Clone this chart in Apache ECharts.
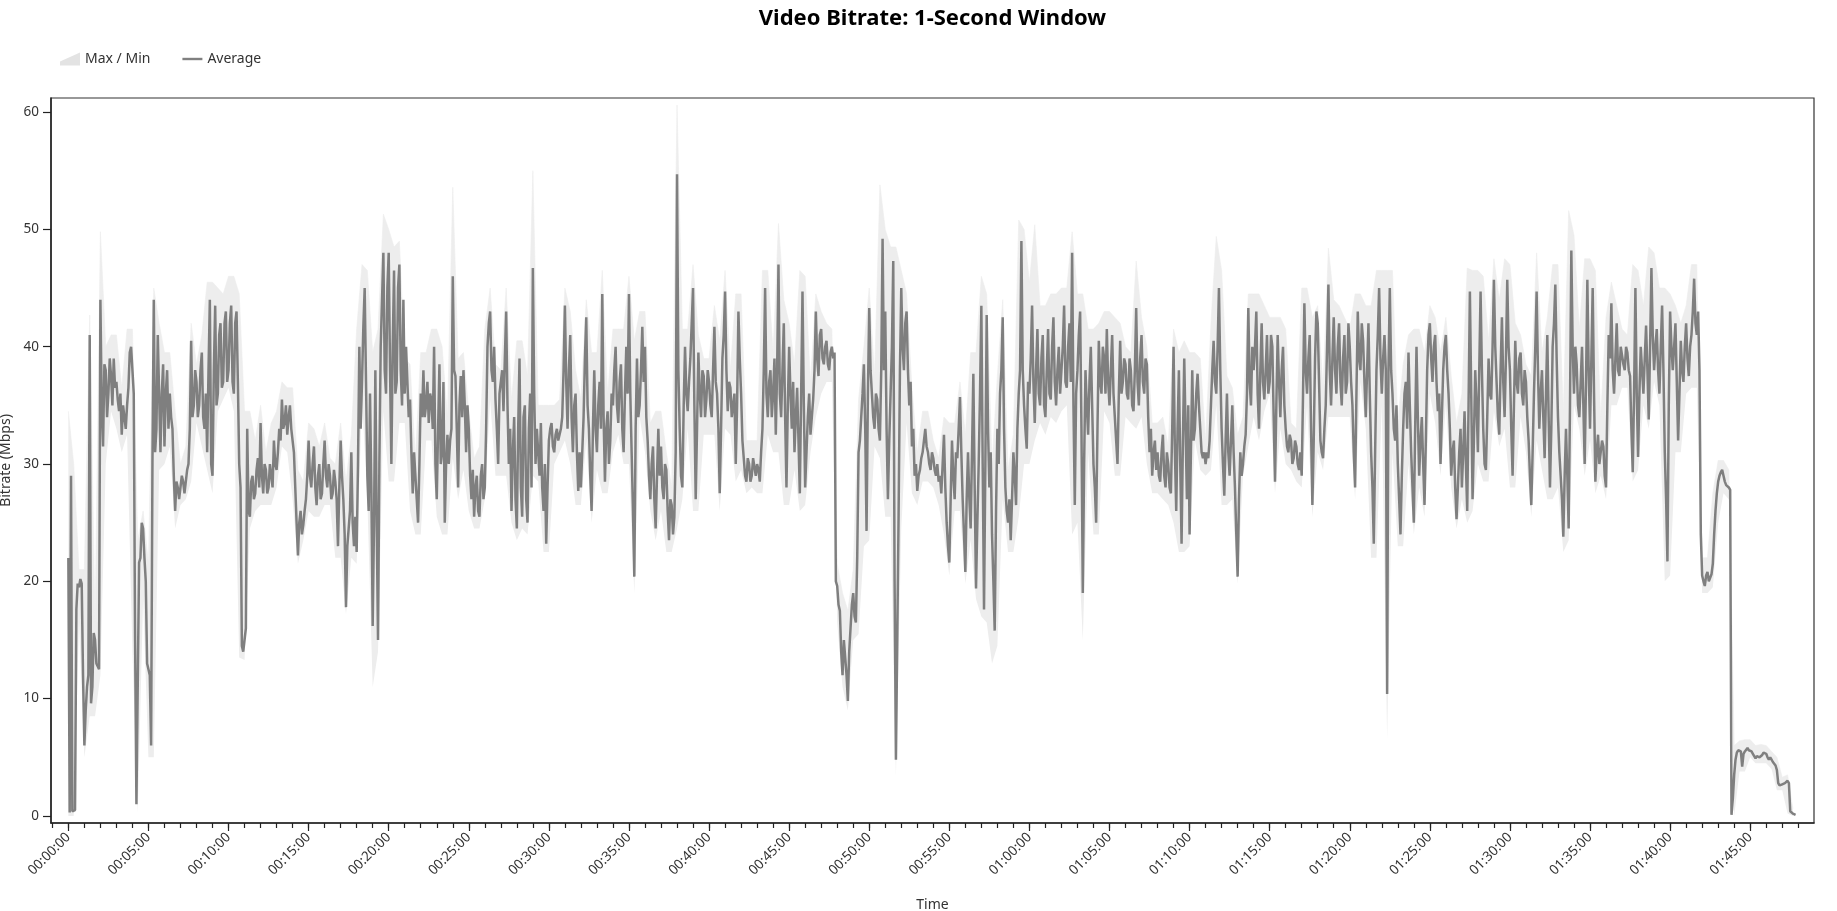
<!DOCTYPE html>
<html><head><meta charset="utf-8">
<script src="https://cdn.jsdelivr.net/npm/echarts@6/dist/echarts.min.js"></script>
<style>html,body{margin:0;padding:0;background:#fff}#c{width:1837px;height:911px}</style>
</head><body><div id="c"></div>
<script>
// ---- data (Mbps); average sampled every 5 s (one row per minute), max/min envelope every 20 s ----
const AVG_STEP_S = 5;
const BAND_STEP_S = 20;
const avgMbps = [
22,0.3,29,0.4,0.4,0.5,17.6,19.8,19.5,20.2,19.8,12,
6,9,11,12,41,9.6,11,15.6,15,13,13,12.5,
44,35,31.5,38.5,38,34,36,39,37.5,35,39,36.5,
37,35.5,34.5,36,32.5,35,34,33,35,36.5,39.5,40,
38,36,15,1,1,21.6,22,25,24.5,22,20,13,
12.5,12,6,30,44,31,33,41,36,31,36,38.5,
31.5,36,38,33,36,34,33,29,26,28.5,28,27,
28,29,28.5,27.5,28.5,29.5,30,33,40.5,34,35,38,
37,34,35,38,39.5,34,33,36,31,38,44,30,
29,38,43.5,35,36,41,42,36.5,37,42,43,37,
38,42,43.5,37,36,42,43,37,30,28,14.5,14,
14,16,33,26,25.5,28.5,29,27,27.5,29.5,30.5,28,
33.5,29,27.5,30,29.5,27.5,28,30,29,28,32,30,
29.5,31,33,32,35.5,33,33.5,35,32.5,34,35,33,
33,31,28,25,22.2,25,26,24,24.8,26,27,29,
32,29,28,30,31.5,28,26.5,29,30,27,27.5,30,
32,29,28,30,29,27,27.5,29.5,28.5,27,23,28,
32,29,27,24,17.8,23,24.5,26,31,25,23,25.5,
22.5,30,40,33,37,41.7,45,37,29,26,36,28,
16.2,25,38,25,15,30,40,44,48,38,36,45,
48,38,30,40,46.5,36,37,45,47,38,35,44,
36,40,37,34,35.5,31,27.5,31,29,27,25,30,
36,34,38,34,35,37,33.5,36,35.5,33,40,30,
27,33,38.5,30,31,37,25,30,32.5,30,32,33,
46,38,37.5,33,28,35,37.5,34,38,35,31,35,
33,29,27,29.5,25.5,28,29,26,25.5,29,30,27,
28,33,40,42,43,38,37,40,35.5,33,30,36,
36,38,34.5,39,43,35,30,33,26,31,34,27,
24.5,33,39,28,25.5,34,35,27,25,33,36,28,
46.7,36,30,33,31,29,33.5,28,26,30,23.2,28,
32,33,33.5,31.5,31,32.5,33,32,32,33,34,38,
43.5,37,33,38,41,34,31,35,36,31,27.7,31,
28,31,34,39,42.5,35,33,29,26,33,38,33,
31,35,37,33,44.5,34,28.5,33,34.5,30,32,36,
35,38,40,35,33.5,37,38.5,33,31,36,40,36,
44.5,36,31,26,20.4,33,39,34,35,38,41.7,37,
40,34,32,29,27,30,31.5,27,24.5,29,33,29,
31.5,28,27,30,29.5,26,23.5,27,26.5,24,25.5,31,
54.7,38,33,29,28,35,40,36,34.5,37,39,42,
45,35,27,33,39.5,36,34,38,37.5,34,35.5,38,
37,35,34,38,41.7,37,36,33,27.5,33,39,41,
44.7,38,34.5,37,36.5,34,34,36,30,35,43,39,
36,32,30.5,29,28.5,30.5,30,28.5,29,30.5,30.5,29,
30,29.5,28.5,31,33,38,45,36,34,37,38,34,
36,39,32.5,38,47,36,34,38,42,34,28,35,
40,36,33,37,31,34,36.5,32,27.5,36,44.7,35,
28,31,34,36,32.5,34,35.5,38,43,39,37.5,41,
41.5,39,38.5,40,40.5,38.5,38,39.5,40,39,39.5,20,
19.6,18,17.5,14,12,15,15,12,9.8,14,16,18,
19,17,16.5,22,31,32,34,36,38.5,33,24.3,36,
43.3,38,36,34,33,36,35.5,33,32,38,49.2,38,
43,33,27,32,36,40,47.3,20,4.8,15,25.7,38,
45,40,38,42,43,38,35,37,31.5,33,29,30,
27.7,29,29.5,30.5,31,32,33,31.5,31,30,29.5,31,
30.5,29.5,29,30,28.5,29,27.5,30,32.5,28,25,23,
21.6,27,32,29,27,31,30.5,33,35.7,31,27,24,
20.8,27,31,27,24.5,31,37.7,28,19.4,25,30,36,
43.5,30,17.6,30,42.7,33,28,31,24,20,15.8,26,
33,30,36,38,42.5,33,28,26,25,27,23.5,27,
31,29,26.5,33,36,38,49,38,35,33,31.3,37,
36,39,43.5,37,33.5,38,41.5,36,35,39,41,35,
34,38,41.5,36,35.5,40,42.5,37,35,38,40,36,
36,40,43.5,37,36.5,40,42,37,48,35,26.5,36,
38,41,43,33,19,30,38,35,32.5,37,40,35,
30,28,25,33,40.5,37,36,40,39,36,41.5,37,
35,38,41,36,34,32,30,36,40.5,36,37,39,
38.5,36,35.5,39,38,35,34.5,38,43.3,37,35,39,
41,37,36,39,38.5,34,31,33,29,31,32,29.5,
31,29,28.5,31,32.5,29,28,31,30,28,27.5,33,
40,31,26,33,38,30,23.2,32,39,33,27,35,
24,31,38,32,33,36,37.7,35,33,31,30.5,31,
30,31,30.5,32,35,38,40.5,37,36,40,45,38,
33,30,27.3,32,36,31,29,32,35,31,28,24,
20.4,27,31,29,30,31.5,32.5,36,43.3,37,35,40,
38,40,43,36,33,38,42,37,35.5,38,41,36,
37,41,40,34,28.5,35,41,37,34,38,40,35,
33,31.5,31,32.5,32,30,30.5,32,31.5,30,29.5,31,
29,36,43.7,38,36,39,41,33,26.5,32,39,43,
42,37,32,31,30.5,33,35,40,45.3,38,35,39,
42.5,38,36,40,42,37,35,39,41,36,37,42,
40,37,35,31,28,36,43,39,38,42,40.5,37,
34,38,42,36,31,28,23.2,31,38,41,45,39,
36,39,41,38,10.4,38,45,38,36,33,32,35,
30,27,24,29,33,36,37,33,39.5,35,31,28,
25,33,40,34,29,32,34,30,26.5,32,38,41,
42,39,37,40,41,37,34.5,36,30,34,38,40,
41,38,36,33,29,31,32,28,25.3,28,31,33,
28,31,34.5,30,26,35,44.7,36,27,32,38,35,
31,38,44.7,38,33,30,29.5,34,39,36,35.5,40,
45.7,40,37,34,32.5,38,42.5,37,34,39,45.7,40,
38,33,29,35,40.5,37,36,39,39.5,36,35,38,
37,34,32,29,26.5,31,36,40,44.7,38,33,36,
38,34,30.5,36,41,34,28,33,40,42,45.3,39,
34,31,29,27,23.8,29,33,29,24.5,35,48.2,40,
36,40,38.5,35,34,37,40,35,30,37,45.7,38,
33,39,45,36,28.5,31,32.5,30,30,32,31.5,29,
28,35,41,39,43.7,38,36,39,42,38,37.5,40,
40,38.5,38,40,39.5,38,37.5,33,29.3,36,45,36,
30.6,36,40,38,36,39,41.8,38,33.8,40,46.7,41,
38,40,41.5,38,36,40,43.5,38,31,27,21.7,35,
43,40,38,40,42,37,32,36,40.5,38,37,40,
42,39,37.5,40,41,43,45.8,42,41,43,38,24,
20.5,20,19.6,20.5,20.8,20,20.3,20.6,21.5,24,26,27.5,
28.5,29,29.3,29.5,29,28.5,28.2,28.3,28,27.8,0.1,1.5,
3.5,4.8,5.4,5.6,5.6,5.5,4.2,5.3,5.5,5.6,5.8,5.6,
5.6,5.5,5.3,5.1,4.9,5.1,5.2,5.0,4.9,5.2,5.4,5.4,
5.3,5.0,4.8,5.0,4.8,4.6,4.5,4.3,3.9,2.8,2.6,2.7,
2.7,2.6,2.8,2.9,3.0,2.8,0.4,0.3,0.2,0.2,0.1
];
const maxMbps = [
34.5,30,21, 21,42.7,16.5, 49.8,40,41, 41,36.5,41.5, 41.5,23.5,26, 21.5,45,42, 39.5,39.5,34.5, 30,31.5,42, 38.5,41,45.5, 45.5,45,44.5,
46,46,44.5, 34.5,34.5,32, 35,31,33.5, 34.5,37,36.5, 36.5,29.5,28.5, 33.5,33,31.5, 33.5,30.5,30, 33.5,28.5,32.5, 41.5,47,46.5, 39.5,41.5,51.3,
50,48.5,49, 39,38.5,30.5, 39.5,39.5,41.5, 41.5,40,34, 53.6,39,39.5, 34.5,30.5,31.5, 41.5,45,38.5, 38,45,35.5, 40.5,40.5,37.5, 55,35,35,
35,35,35.5, 45,43,38, 35.5,44,39.5, 39.5,46.5,36, 41.5,41.5,41.5, 46,40.5,43, 43,33.5,34.5, 34.5,31,28, 60.6,41.5,41.5, 47,41,39,
39,43.5,40.5, 46.5,38,44.5, 44.5,32,32, 32,46.5,46.5, 39.5,50.5,44, 42,38.5,46.5, 46,37,44.5, 43,42,41.5, 21.5,19,17.5, 21,35.5,40,
45,37.5,53.8, 50,48.5,48.5, 46.5,44.5,36.5, 31,34.5,34.5, 32,30.5,34, 33.5,33.5,37, 32.5,39.5,39.5, 46,44.5,30, 37.5,44,29.5, 32.5,50.8,50,
45.5,50.4,43.5, 43.5,44.5,44.5, 45,45,49.8, 44.5,44.5,41.5, 41.5,42,43, 43,42.5,42, 40,39.5,47.3, 42.5,40,33.5, 33.5,34,31.5, 41.5,39.5,40.5,
39.5,39.5,39, 32,42,49.4, 46.5,37.5,36.5, 32.5,34,44.5, 44.5,44.5,43.5, 42.5,42.5,42.5, 41.5,33.5,33, 45,45,42.5, 43.5,36.5,48.4, 44,43.5,42.5,
41.5,44.5,44.5, 43.5,43.5,46.5, 46.5,46.5,46.5, 33.5,38.5,41, 41.5,41.5,39.5, 43.5,42.5,39.5, 42.5,37.5,33.5, 36,46.7,46.5, 46.5,46,40.5, 47.5,44,47.5,
47,42,41, 38.5,37.5,48, 39.5,42.5,47, 47,34.5,51.6, 49.5,41.5,47.5, 47.5,46.5,34, 42.5,45.5,43.5, 41.5,41,47, 46.5,43.5,48.5, 48,45,45,
44.5,43.5,42, 43.5,47,47, 22,22,27.5, 30.3,30.3,29.5, 6,6.4,6.5, 6.5,6,6.1, 6,5.5,5, 3.3,3.5,0.6
];
const minMbps = [
0,0,16.5, 5,8.5,8.5, 12,30,34.5, 33,31,32.5, 14,0.3,18.5, 5,5,29.5, 30,31.5,24.5, 26.5,27,28.5, 33.5,31.5,29.5, 27.5,34.5,35.5,
36.5,34.5,13.5, 13.3,24.5,26, 26.5,26.5,26.5, 28,31.5,31, 27,21.5,23.5, 26,25.5,25.5, 26.5,26.5,22, 22,17.2,22, 21.5,35.5,27, 11,14,34.5,
28.5,28.5,33.5, 33.5,26,24, 24,32,32, 25.5,24,24, 30.5,27,29.5, 26,24.5,24.5, 27,35.5,29, 29,29,25, 23.5,24.5,24, 29,28.5,22.5,
22.5,30,31, 32,30,26.5, 26.5,32,25, 29.5,27.5,27.5, 31,32.5,30, 30,19,34, 31,26,23.5, 26,22.5,22.5, 24.5,27,33, 26,26,32.5,
32.5,32.5,26, 33,32.5,28.5, 29.5,27.5,28, 27.5,27.5,32.5, 31,31,26.5, 26.5,29.5,26, 26.5,31,34, 36,37,37, 16.5,11,9, 15,15.5,23,
23.5,31.5,30.5, 25.5,25.5,3.4, 24.5,33.5,27.5, 26.5,28.5,28.5, 28,26.5,24, 20.5,26,26, 19.8,23.5,18.5, 17,16.5,13, 14.5,27,22.5, 22.5,25.5,30,
30,32,33.5, 32.5,34,33.5, 34.5,35,24, 25,15,31, 24,24,34.5, 33.5,29,29, 34,33.5,33, 34,30,27.5, 27.5,27,26.5, 25,22.5,22.5,
23,32,29.5, 29,29.5,35, 26.5,26.5,27, 19.8,29,31.5, 34,32,34.5, 36,27.5,33, 30,29.5,28.5, 28,35,25.5, 31,29.5,34, 34,34,34,
34,27,37, 33,22,22, 35,6.6,31, 23,23,30, 24,28,25.5, 36,33.5,29, 35,28,24.5, 27,25,26, 30,28.5,28.5, 34.5,31.5,33,
28,28,34, 31,25.5,32, 29.5,27,27, 28,22.5,23.5, 35,33,29, 32,27.5,29, 27,35,35, 36.5,36.5,28.5, 29.5,35,33, 37,35,20,
20.5,31,31, 36,36.5,36.5, 19,19,19.5, 25,27.5,27, 0,3.8,3.8, 5,4.5,4.5, 4.5,4,2.2, 2.2,0.2,0
];
// tick positions (seconds)
const labelTicksS = [0,300,600,900,1200,1500,1800,2100,2400,2700,3000,3300,3600,3900,4200,4500,4800,5100,5400,5700,6000,6300];
const yTicks = [0,10,20,30,40,50,60];

// ---- build ----
const avgData = avgMbps.map((v, i) => [i * AVG_STEP_S, v]);
const maxData = maxMbps.map((v, i) => [i * BAND_STEP_S, v]);
const minData = minMbps.map((v, i) => [i * BAND_STEP_S, v]);
const minuteTicks = [];
for (let m = -1; m <= 108; m++) minuteTicks.push(m * 60);
const pad = n => String(n).padStart(2, '0');
const fmt = v => { const s = Math.round(v); return pad(Math.floor(s / 3600)) + ':' + pad(Math.floor((s % 3600) / 60)) + ':' + pad(s % 60); };

const FONT = 'Noto Sans';
const X_MIN = -65, X_MAX = 6539;
const chart = echarts.init(document.getElementById('c'), null, { renderer: 'canvas' });
chart.setOption({
  animation: false,
  backgroundColor: '#fff',
  textStyle: { fontFamily: FONT },
  title: {
    text: 'Video Bitrate: 1-Second Window',
    left: 927.5, top: 3, textAlign: 'center',
    textStyle: { fontFamily: FONT, fontSize: 22, fontWeight: 'bold', color: '#000' }
  },
  legend: {
    left: 55, top: 47, itemWidth: 20, itemHeight: 13, itemGap: 32,
    textStyle: { fontFamily: FONT, fontSize: 14, color: '#333' },
    data: [
      { name: 'Max / Min', icon: 'path://M0,13L0,9L20,0L20,13Z', itemStyle: { color: '#e3e3e3', borderWidth: 0 } },
      { name: 'Average', icon: 'path://M0,0H20V2.4H0Z', itemStyle: { color: '#808080', borderWidth: 0 } }
    ]
  },
  grid: { left: 51, top: 98, width: 1763, height: 725, show: true, borderColor: '#333', borderWidth: 1.2,
          containLabel: false, outerBoundsMode: 'none' },
  xAxis: [
    {
      type: 'value', min: X_MIN, max: X_MAX, position: 'bottom',
      name: 'Time', nameLocation: 'middle', nameGap: 75,
      nameTextStyle: { fontFamily: FONT, fontSize: 14, color: '#333' },
      axisLine: { show: true, onZero: false, lineStyle: { color: '#222', width: 1.5 } },
      axisTick: { show: true, customValues: labelTicksS, length: 8, lineStyle: { color: '#222', width: 1.2 } },
      axisLabel: { customValues: labelTicksS, rotate: 45, margin: 12, formatter: v => fmt(v),
        fontFamily: FONT, fontSize: 13.5, color: '#333' },
      splitLine: { show: false }
    },
    {
      type: 'value', min: X_MIN, max: X_MAX, position: 'bottom',
      axisLine: { show: false, onZero: false },
      axisTick: { show: true, customValues: minuteTicks, length: 5, lineStyle: { color: '#222', width: 1.2 } },
      axisLabel: { show: false },
      splitLine: { show: false }
    }
  ],
  yAxis: {
    type: 'value', min: -0.6, max: 61.2,
    name: 'Bitrate (Mbps)', nameLocation: 'middle', nameGap: 27,
    nameTextStyle: { fontFamily: FONT, fontSize: 14, color: '#333' },
    axisLine: { show: true, onZero: false, lineStyle: { color: '#222', width: 1.5 } },
    axisTick: { show: true, customValues: yTicks, length: 8, lineStyle: { color: '#222', width: 1.2 } },
    axisLabel: { customValues: yTicks, margin: 12, fontFamily: FONT, fontSize: 13.5, color: '#333' },
    splitLine: { show: false }
  },
  series: [
    // envelope: grey area under the max, then white area under the min leaves the max/min band
    { name: 'Max / Min', type: 'line', data: maxData, symbol: 'none', silent: true,
      lineStyle: { width: 0.6, color: '#ededed' }, itemStyle: { color: '#e3e3e3' },
      areaStyle: { color: '#ededed', opacity: 1 }, z: 1 },
    { name: 'Min', type: 'line', data: minData, symbol: 'none', silent: true,
      lineStyle: { width: 0 }, itemStyle: { color: '#ffffff' },
      areaStyle: { color: '#ffffff', opacity: 1 }, z: 1 },
    { name: 'Average', type: 'line', data: avgData, symbol: 'none', silent: true,
      lineStyle: { color: '#7f7f7f', width: 2.5 }, itemStyle: { color: '#808080' }, z: 2 }
  ]
});
</script>
</body></html>
